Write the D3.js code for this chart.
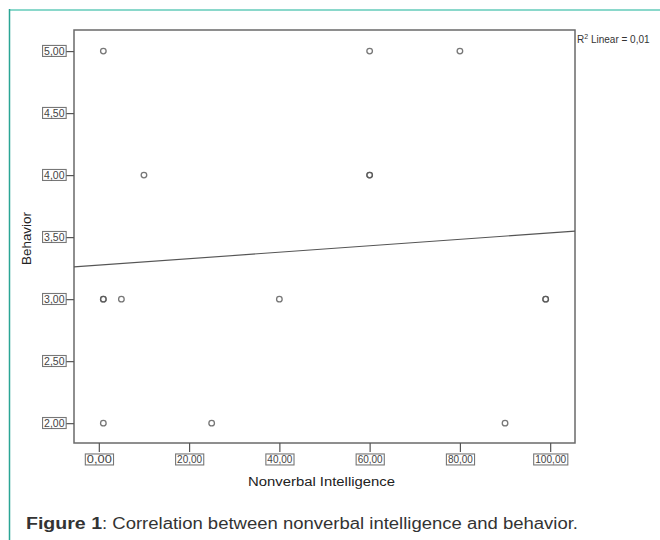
<!DOCTYPE html>
<html><head><meta charset="utf-8">
<script src="https://cdn.jsdelivr.net/npm/d3@7"></script>
<style>html,body{margin:0;padding:0;background:#fff;}svg{display:block;}</style>
</head><body>
<script>
// Data (duplicates drawn twice to reproduce the darker, overlapping markers)
const intelligence = [1, 60, 80, 10, 60, 60, 1, 1, 5, 40, 99, 99, 1, 25, 90];
const behavior     = [5, 5, 5, 4, 4, 4, 3, 3, 3, 3, 3, 3, 2, 2, 2];
const xTicks = [0, 20, 40, 60, 80, 100];
const yTicks = [2, 2.5, 3, 3.5, 4, 4.5, 5];
const fitIntercept = 3.274;
const fitSlope = 0.0026;
const r2Label = "0,01";

const W = 660, H = 540;
const svg = d3.select("body").append("svg").attr("width", W).attr("height", H);
const fmt = v => d3.format(".2f")(v).replace(".", ",");
const FONT = "Liberation Sans, Arial, sans-serif";

// teal page frame
svg.append("line").attr("x1", 9).attr("x2", W).attr("y1", 10).attr("y2", 10)
  .attr("stroke", "#8ad8cb").attr("stroke-width", 2);
svg.append("line").attr("x1", 9.5).attr("x2", 9.5).attr("y1", 9).attr("y2", H)
  .attr("stroke", "#2aa595").attr("stroke-width", 1.5);

const L = 74, R = 575, T = 30, B = 443;
const x = d3.scaleLinear().domain([-5.5, 105.5]).range([L, R]);
const y = d3.scaleLinear().domain([1.84, 5.17]).range([B, T]);

// plot frame
svg.append("rect").attr("x", L).attr("y", T).attr("width", R - L).attr("height", B - T)
  .attr("fill", "none").attr("stroke", "#6a6a6a").attr("stroke-width", 1.5);

// y axis
const yAxis = svg.append("g").attr("transform", `translate(${L},0)`)
  .call(d3.axisLeft(y).tickValues(yTicks).tickFormat(fmt).tickSize(8).tickPadding(1.5));
yAxis.select(".domain").remove();
yAxis.selectAll(".tick line").attr("stroke", "#555").attr("stroke-width", 1.2);
yAxis.selectAll(".tick text").attr("font-family", FONT)
  .attr("font-size", 10.5).attr("fill", "#444");

// x axis
const xAxis = svg.append("g").attr("transform", `translate(0,${B})`)
  .call(d3.axisBottom(x).tickValues(xTicks).tickFormat(fmt).tickSize(9).tickPadding(4));
xAxis.select(".domain").remove();
xAxis.selectAll(".tick line").attr("stroke", "#555").attr("stroke-width", 1.2);
xAxis.selectAll(".tick text").attr("font-family", FONT)
  .attr("font-size", 10.5).attr("fill", "#444").attr("textLength", 25).attr("lengthAdjust", "spacingAndGlyphs");
xAxis.selectAll(".tick text").filter(d => d >= 100).attr("textLength", 31);

// boxes around tick labels (SPSS style)
svg.selectAll(".tick text").each(function() {
  const bb = this.getBBox();
  d3.select(this.parentNode).insert("rect", "text")
    .attr("x", bb.x - 1.5).attr("y", bb.y + 0.5).attr("width", bb.width + 3).attr("height", bb.height - 1)
    .attr("fill", "none").attr("stroke", "#777").attr("stroke-width", 1.1);
});

// fit line
const fx = x.domain();
svg.append("line")
  .attr("x1", x(fx[0])).attr("y1", y(fitIntercept + fitSlope * fx[0]))
  .attr("x2", x(fx[1])).attr("y2", y(fitIntercept + fitSlope * fx[1]))
  .attr("stroke", "#555").attr("stroke-width", 1.1);

// points
svg.append("g").selectAll("circle").data(intelligence.map((d, i) => [d, behavior[i]]))
  .join("circle")
  .attr("cx", d => x(d[0])).attr("cy", d => y(d[1])).attr("r", 2.8)
  .attr("fill", "none").attr("stroke", "#555").attr("stroke-opacity", 0.8).attr("stroke-width", 1.3);

// R2 label
const r2 = svg.append("text").attr("x", R + 2).attr("y", 43)
  .attr("font-family", FONT).attr("font-size", 10).attr("fill", "#333");
r2.append("tspan").text("R");
r2.append("tspan").attr("dy", -4).attr("font-size", 7).text("2");
r2.append("tspan").attr("dy", 4).text(" Linear = " + r2Label);

// axis titles
svg.append("text").attr("x", 248).attr("y", 486)
  .attr("font-family", FONT).attr("font-size", 12.5).attr("fill", "#222")
  .attr("textLength", 147).attr("lengthAdjust", "spacingAndGlyphs")
  .text("Nonverbal Intelligence");
svg.append("text").attr("transform", "translate(31,265) rotate(-90)")
  .attr("font-family", FONT).attr("font-size", 12.5).attr("fill", "#222")
  .attr("textLength", 53).attr("lengthAdjust", "spacingAndGlyphs")
  .text("Behavior");

// caption
const cap = svg.append("text").attr("x", 26).attr("y", 529)
  .attr("font-family", FONT).attr("font-size", 16).attr("fill", "#333");
cap.append("tspan").attr("font-weight", "bold").attr("textLength", 76).attr("lengthAdjust", "spacingAndGlyphs").text("Figure 1");
cap.append("tspan").attr("textLength", 476).attr("lengthAdjust", "spacingAndGlyphs")
  .text(": Correlation between nonverbal intelligence and behavior.");
</script>
</body></html>
